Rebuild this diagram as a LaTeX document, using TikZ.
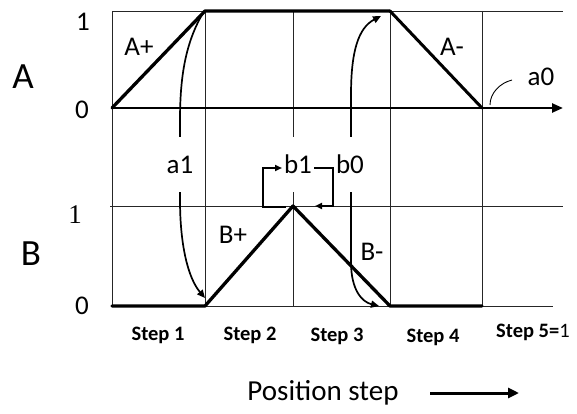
\documentclass[tikz,border=0pt]{standalone}
\usepackage{fontspec}
\setmainfont{Carlito}
\newfontfamily\serifdigits{Liberation Serif}
\usetikzlibrary{arrows.meta}
\begin{document}
\begin{tikzpicture}[x=1pt,y=-1pt,
  grid/.style={line width=0.8pt,black!85},
  trace/.style={line width=3.3pt,line cap=round,line join=round},
  signal/.style={line width=1.7pt,-{Triangle[length=8pt,width=7pt]}},
  fb/.style={line width=1.8pt,-{Triangle[length=7pt,width=6pt]}},
  axisarrow/.style={line width=2.4pt,-{Triangle[length=11pt,width=9pt]}},
  lab/.style={font=\fontsize{27}{28}\selectfont,inner sep=0pt},
  big/.style={font=\fontsize{37}{38}\selectfont,inner sep=0pt},
  boxlab/.style={font=\fontsize{27}{28}\selectfont,fill=white,inner xsep=3pt,minimum height=55pt},
  steplab/.style={font=\fontsize{20.5}{22}\selectfont\bfseries,inner sep=0pt}]
\useasboundingbox (0,0) rectangle (577,414);
% grid coordinates
\coordinate (a00) at (112,108); \coordinate (a01) at (112,11);
\coordinate (a10) at (205,108); \coordinate (a11) at (205,11);
\coordinate (a30) at (390,108); \coordinate (a31) at (390,11);
\coordinate (a40) at (482,108);
\coordinate (b00) at (112,306); \coordinate (b10) at (205,306);
\coordinate (b21) at (293,206); \coordinate (b30) at (390,306);
\coordinate (b40) at (482,306);
% grid lines
\draw[grid] (112,11) -- (563,11);
\draw[grid] (110,206) -- (563,206);
\draw[grid] (112,306) -- (553,306);
\foreach \xx in {112,205,293,390,482} \draw[grid] (\xx,11) -- (\xx,306);
% axis of A
\coordinate (axend) at (563,108);
\draw[axisarrow] (a00) -- (axend);
% signal traces
\draw[trace] (a00) -- (a11) -- (a31);
\draw[line width=3pt,line cap=round] (a31) -- (a40);
\draw[trace] (b00) -- (b10) -- (b21) -- (b30) -- (b40);
% curved signal arrows
\coordinate (a1s) at (203,13); \coordinate (a1e) at (205,298);
\draw[signal] (a1s) .. controls (186,42) and (180,75) .. (180,120) -- (180,200)
  .. controls (180,245) and (188,278) .. (a1e);
\coordinate (b0top) at (381,16); \coordinate (b0bot) at (379,306);
\draw[signal,{Triangle[length=8pt,width=7pt]}-{Triangle[length=8pt,width=7pt]}]
  (b0top) .. controls (358,28) and (351,52) .. (351,95) -- (351,262)
  .. controls (351,290) and (362,302) .. (b0bot);
% a0 curve
\coordinate (a0s) at (490,105); \coordinate (a0e) at (512,80);
\draw[line width=0.9pt] (a0s) .. controls (490,93) and (500,83) .. (a0e);
% boxed labels
\node[boxlab] (la1) at (180,164.5) {a1};
\node[boxlab] (lb1) at (298,164.5) {b1};
\node[boxlab] (lb0) at (350,164.5) {b0};
% b1 feedback brackets
\coordinate (fl0) at (286,207); \coordinate (fl1) at (263,207);
\coordinate (fl2) at (263,168); \coordinate (fl3) at (282,168);
\draw[fb] (fl0) -- (fl1) -- (fl2) -- (fl3);
\coordinate (fr0) at (314,168); \coordinate (fr1) at (333,168);
\coordinate (fr2) at (333,206); \coordinate (fr3) at (315,206);
\draw[fb] (fr0) -- (fr1) -- (fr2) -- (fr3);
% labels
\node[lab] (one1) at (83,22) {1};
\node[big] (lA) at (23,77) {A};
\node[lab] (zero1) at (82,110) {0};
\node[lab,font=\fontsize{27}{28}\serifdigits] (one2) at (75,215) {1};
\node[big] (lB) at (31,254) {B};
\node[lab] (zero2) at (82,306) {0};
\node[lab] (Ap) at (139,47) {A+};
\node[lab] (Am) at (452,47) {A-};
\node[lab] (Bp) at (233,235) {B+};
\node[lab] (Bm) at (372,252) {B-};
\node[lab] (la0) at (541,77) {a0};
\node[steplab] (s1) at (158,335) {Step 1};
\node[steplab] (s2) at (250,335) {Step 2};
\node[steplab] (s3) at (337,336) {Step 3};
\node[steplab] (s4) at (433,337) {Step 4};
\node[steplab,anchor=west] (s5) at (496,332) {Step 5=\mdseries 1};
\node[font=\fontsize{29}{30}\selectfont,inner sep=0pt] (pos) at (323,393) {Position step};
\coordinate (pa) at (430,393); \coordinate (pb) at (519,393);
\draw[line width=3pt,-{Triangle[length=11pt,width=10pt]}] (pa) -- (pb);
\end{tikzpicture}
\end{document}
